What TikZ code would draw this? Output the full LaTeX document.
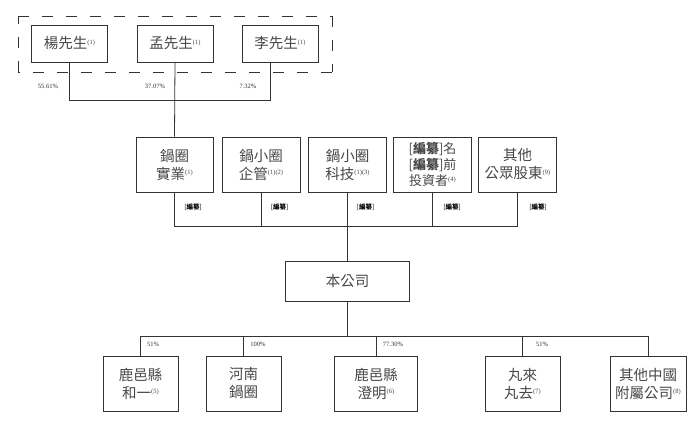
\documentclass[tikz,border=0pt]{standalone}
\usepackage{fontspec}
\setmainfont{Liberation Serif}
\newfontfamily\cjk{Noto Sans CJK TC}
\newcommand\sups[1]{\raisebox{4.5pt}{\rmfamily\fontsize{6.5}{6.5}\selectfont #1}}
\newcommand\bzl{{\cjk\fontsize{6.5}{6.5}\selectfont[\textbf{編纂}]}}
\newcommand\bzb{{[\textbf{編纂}]}}
\begin{document}
\begin{tikzpicture}[x=1pt,y=-1pt,
  every node/.style={inner sep=0pt},
  ent/.style={draw=black!80, line width=0.8pt, fill=white, align=center,
    font=\cjk\fontsize{14.5}{18}\selectfont, text=black!72},
  pct/.style={font=\rmfamily\fontsize{6.5}{7}\selectfont, text=black!80},
  conn/.style={draw=black!80, line width=0.8pt},
  grp/.style={draw=black!80, line width=0.8pt, dash pattern=on 11pt off 13pt}]
\useasboundingbox (0,0) rectangle (700,420);
% dashed group
\coordinate (g1) at (18,16);
\coordinate (g2) at (332,16);
\coordinate (g3) at (332,72);
\coordinate (g4) at (18,72);
\draw[grp] (g1) -- (g2);
\draw[grp] (g2) -- (g3);
\draw[grp] (g3) -- (g4);
\draw[grp] (g4) -- (g1);
% top row
\node[ent, minimum width=76pt, minimum height=37pt] (yang) at (69.5,43.5) {楊先生\sups{(1)}};
\node[ent, minimum width=76pt, minimum height=37pt] (meng) at (175,43.5) {孟先生\sups{(1)}};
\node[ent, minimum width=76pt, minimum height=37pt] (li) at (280,43.5) {李先生\sups{(1)}};
\coordinate (lib) at (270,62);
% middle row
\node[ent, minimum width=77pt, minimum height=55pt] (shiye) at (174.5,164.5) {鍋圈\\實業\sups{(1)}};
\node[ent, minimum width=78pt, minimum height=55pt] (qiguan) at (261,164.5) {鍋小圈\\企管\sups{(1)(2)}};
\node[ent, minimum width=78pt, minimum height=55pt] (keji) at (347.5,164.5) {鍋小圈\\科技\sups{(1)(3)}};
\node[ent, minimum width=78pt, minimum height=55pt, font=\cjk\fontsize{13}{16}\selectfont] (touzi) at (432.5,164.5) {\bzb 名\\\bzb 前\\投資者\sups{(4)}};
\node[ent, minimum width=78pt, minimum height=55pt] (gongzhong) at (517.5,164.5) {其他\\公眾股東\sups{(9)}};
% company
\node[ent, minimum width=124pt, minimum height=40pt] (bgs) at (347.5,281) {本公司};
% bottom row
\node[ent, minimum width=75pt, minimum height=55pt] (heyi) at (140.5,383.5) {鹿邑縣\\和一\sups{(5)}};
\node[ent, minimum width=75pt, minimum height=55pt] (henan) at (243.5,383.5) {河南\\鍋圈};
\node[ent, minimum width=83pt, minimum height=55pt] (chengming) at (376,383.5) {鹿邑縣\\澄明\sups{(6)}};
\node[ent, minimum width=75pt, minimum height=55pt] (wanlai) at (522.5,383.5) {丸來\\丸去\sups{(7)}};
\node[ent, minimum width=76pt, minimum height=55pt] (qita) at (648,383.5) {其他中國\\附屬公司\sups{(8)}};
% top connectors
\coordinate (tb) at (175,100);
\draw[conn] (yang.south) -- (yang.south |- tb) -- (lib |- tb) -- (lib);
\draw[conn] (meng.south) -- (shiye.north);
\node[pct] (p1) at (48,86) {55.61\%};
\node[pct] (p2) at (155,86) {37.07\%};
\node[pct] (p3) at (248,86) {7.32\%};
% middle connectors
\coordinate (mb) at (347.5,226);
\draw[conn] (shiye.south) -- (shiye.south |- mb) -- (gongzhong.south |- mb) -- (gongzhong.south);
\draw[conn] (qiguan.south) -- (qiguan.south |- mb);
\draw[conn] (touzi.south) -- (touzi.south |- mb);
\draw[conn] (keji.south) -- (bgs.north);
\node (b1) at (193,207.5) {\bzl};
\node (b2) at (279.5,207.5) {\bzl};
\node (b3) at (365.5,207.5) {\bzl};
\node (b4) at (452,207.5) {\bzl};
\node (b5) at (538,207.5) {\bzl};
% bottom connectors
\coordinate (bb) at (347.5,336);
\draw[conn] (bgs.south) -- (bb);
\draw[conn] (heyi.north) -- (heyi.north |- bb) -- (qita.north |- bb) -- (qita.north);
\draw[conn] (henan.north) -- (henan.north |- bb);
\draw[conn] (chengming.north) -- (chengming.north |- bb);
\draw[conn] (wanlai.north) -- (wanlai.north |- bb);
\node[pct] (q1) at (153,344.5) {51\%};
\node[pct] (q2) at (258,344.5) {100\%};
\node[pct] (q3) at (393,344.5) {77.30\%};
\node[pct] (q4) at (542,344.5) {51\%};
\end{tikzpicture}
\end{document}
